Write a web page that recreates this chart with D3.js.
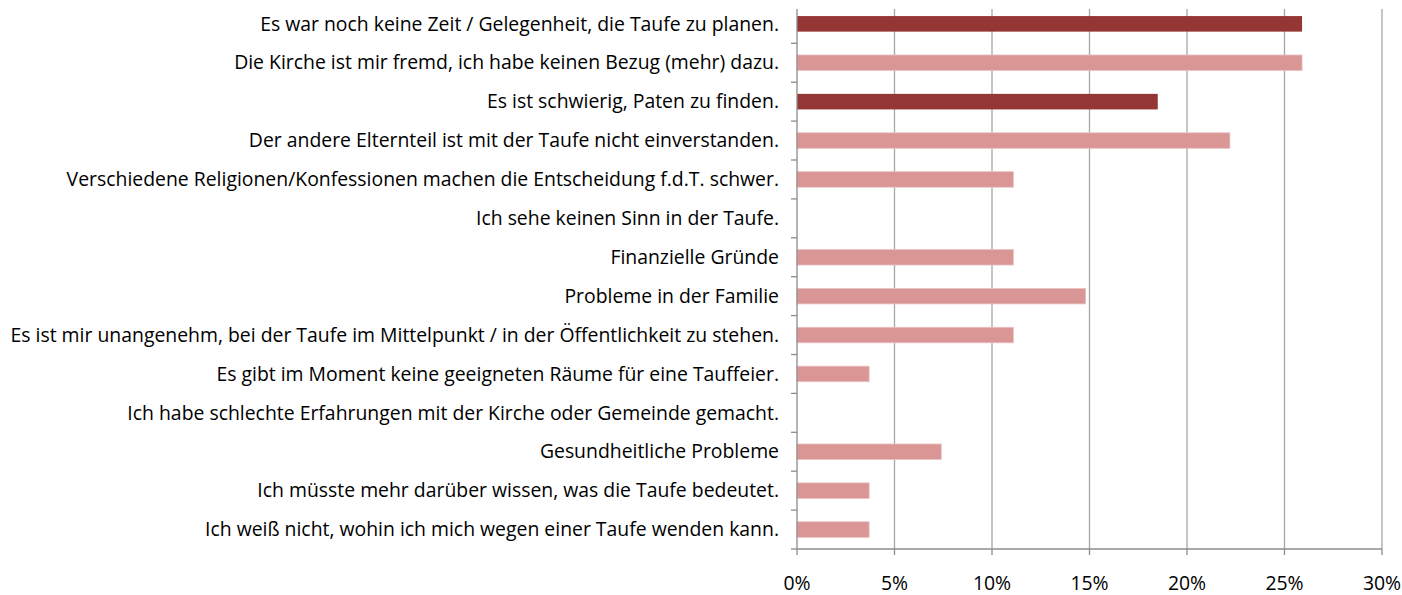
<!DOCTYPE html>
<html>
<head>
<meta charset="utf-8">
<script src="https://cdn.jsdelivr.net/npm/d3@7"></script>
<style>
  html, body { margin: 0; padding: 0; background: #fff; }
  svg { display: block; }
  text { font-family: "Open Sans", Lato, sans-serif; fill: #000; }
</style>
</head>
<body>
<svg id="chart" width="1402" height="595"></svg>
<script>
const categories = [
  "Es war noch keine Zeit / Gelegenheit, die Taufe zu planen.",
  "Die Kirche ist mir fremd, ich habe keinen Bezug (mehr) dazu.",
  "Es ist schwierig, Paten zu finden.",
  "Der andere Elternteil ist mit der Taufe nicht einverstanden.",
  "Verschiedene Religionen/Konfessionen machen die Entscheidung f.d.T. schwer.",
  "Ich sehe keinen Sinn in der Taufe.",
  "Finanzielle Gründe",
  "Probleme in der Familie",
  "Es ist mir unangenehm, bei der Taufe im Mittelpunkt / in der Öffentlichkeit zu stehen.",
  "Es gibt im Moment keine geeigneten Räume für eine Tauffeier.",
  "Ich habe schlechte Erfahrungen mit der Kirche oder Gemeinde gemacht.",
  "Gesundheitliche Probleme",
  "Ich müsste mehr darüber wissen, was die Taufe bedeutet.",
  "Ich weiß nicht, wohin ich mich wegen einer Taufe wenden kann."
];
const values = [0.259, 0.259, 0.185, 0.222, 0.111, 0, 0.111, 0.148, 0.111, 0.037, 0, 0.074, 0.037, 0.037];
const groups = ["A", "B", "A", "B", "B", "B", "B", "B", "B", "B", "B", "B", "B", "B"];
const xTicks = [0, 0.05, 0.10, 0.15, 0.20, 0.25, 0.30];

const svg = d3.select("#chart");
const pLeft = 797, pRight = 1382, pTop = 4.4, pBottom = 549, lineTop = 9;

const x = d3.scaleLinear().domain([0, 0.30]).range([pLeft, pRight]);
const y = d3.scaleBand().domain(categories).range([pTop, pBottom]).paddingInner(0.6).paddingOuter(0.3);
const color = d3.scaleOrdinal().domain(["A", "B"]).range(["#943634", "#D99694"]);

// vertical gridlines
svg.append("g").selectAll("line").data(xTicks.slice(1)).join("line")
  .attr("x1", d => x(d)).attr("x2", d => x(d))
  .attr("y1", lineTop).attr("y2", pBottom)
  .attr("stroke", "#A6A6A6").attr("stroke-width", 1.3);

// bars
svg.append("g").selectAll("rect").data(categories).join("rect")
  .attr("x", x(0))
  .attr("y", d => y(d))
  .attr("width", (d, i) => x(values[i]) - x(0))
  .attr("height", y.bandwidth())
  .attr("fill", (d, i) => color(groups[i]))
  .attr("stroke", (d, i) => groups[i] === "B" ? "#EBC4C3" : "none")
  .attr("stroke-width", 0.8);

// y axis line and ticks
const band = (pBottom - pTop) / categories.length;
svg.append("line").attr("x1", pLeft).attr("x2", pLeft).attr("y1", lineTop).attr("y2", pBottom)
  .attr("stroke", "#8C8C8C").attr("stroke-width", 1.3);
svg.append("g").selectAll("line").data(d3.range(1, categories.length + 1)).join("line")
  .attr("x1", pLeft - 6).attr("x2", pLeft)
  .attr("y1", i => pTop + i * band).attr("y2", i => pTop + i * band)
  .attr("stroke", "#8C8C8C").attr("stroke-width", 1.3);

// x axis line and ticks
svg.append("line").attr("x1", pLeft).attr("x2", pRight).attr("y1", pBottom).attr("y2", pBottom)
  .attr("stroke", "#8C8C8C").attr("stroke-width", 1.3);
svg.append("g").selectAll("line").data(xTicks).join("line")
  .attr("x1", d => x(d)).attr("x2", d => x(d))
  .attr("y1", pBottom).attr("y2", pBottom + 6)
  .attr("stroke", "#8C8C8C").attr("stroke-width", 1.3);

// category labels
const labels = svg.append("g").selectAll("text").data(categories).join("text")
  .attr("x", pLeft - 18)
  .attr("y", d => y(d) + y.bandwidth() / 2 + 1.5)
  .attr("text-anchor", "end").attr("dominant-baseline", "middle")
  .attr("font-size", 18)
  .text(d => d);
// fit font size so the longest label spans the same width as in the original
let maxW = 0;
labels.each(function () { maxW = Math.max(maxW, this.getComputedTextLength()); });
const fs = 18 * 769 / maxW;
labels.attr("font-size", fs);

// x tick labels
svg.append("g").selectAll("text").data(xTicks).join("text")
  .attr("x", d => x(d)).attr("y", 585)
  .attr("text-anchor", "middle").attr("dominant-baseline", "middle")
  .attr("font-size", fs)
  .text(d => d3.format(".0%")(d));
</script>
</body>
</html>
